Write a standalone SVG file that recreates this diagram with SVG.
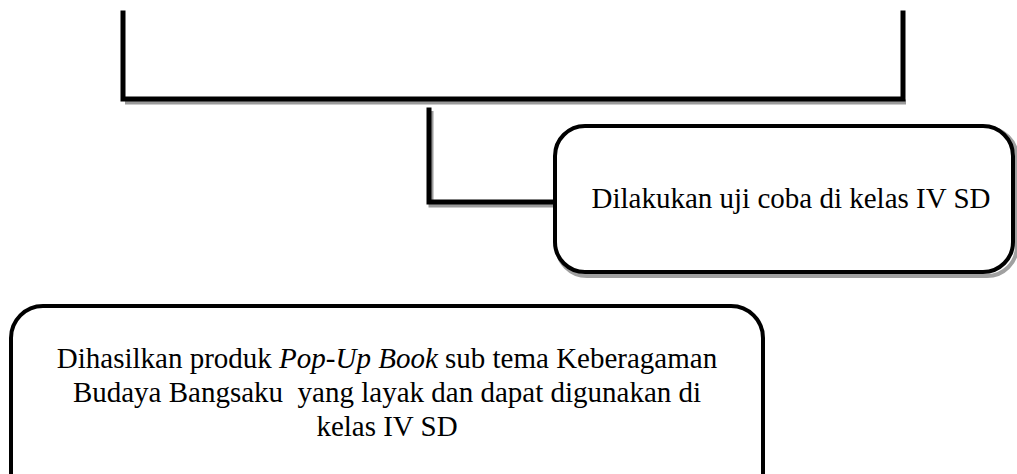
<svg xmlns="http://www.w3.org/2000/svg" width="1017" height="474" viewBox="0 0 1017 474">
  <style>
    .line { fill: none; stroke: #000; stroke-width: 5; stroke-linecap: square; }
    .shadow { fill: none; stroke: #9a9a9a; stroke-width: 5; }
    .box { fill: #fff; stroke: #000; stroke-width: 4; }
    .boxshadow { fill: none; stroke: #a0a0a0; stroke-width: 4; }
    .label { font-family: "Liberation Serif", "Times New Roman", serif; font-size: 29px; fill: #000; text-anchor: middle; }
  </style>

  <!-- connectors -->
  <g id="connectors">
    <path class="shadow" d="M125 102 H906 M431 111 V205 H556"/>
    <path class="line" d="M123 13 V99 H903 V13"/>
    <path class="line" d="M429 110 V202 H554"/>
  </g>

  <!-- trial node -->
  <g id="node-trial">
    <rect class="boxshadow" x="557" y="128" width="460" height="148" rx="30"/>
    <rect class="box" x="555" y="126" width="458" height="146" rx="30"/>
    <text class="label" x="791" y="208">Dilakukan uji coba di kelas IV SD</text>
  </g>

  <!-- result node -->
  <g id="node-result">
    <rect class="box" x="11" y="306" width="752" height="200" rx="32"/>
    <text class="label" x="387" y="368">Dihasilkan produk <tspan font-style="italic">Pop-Up Book</tspan> sub tema Keberagaman</text>
    <text class="label" x="387" y="402" xml:space="preserve">Budaya Bangsaku  yang layak dan dapat digunakan di</text>
    <text class="label" x="387" y="436">kelas IV SD</text>
  </g>
</svg>
